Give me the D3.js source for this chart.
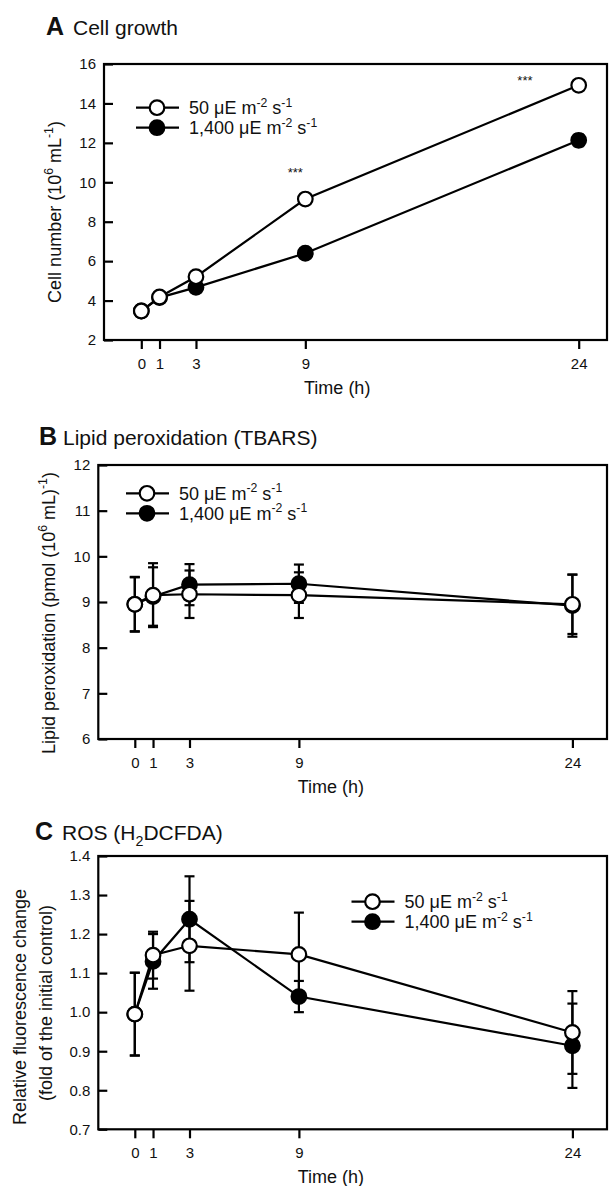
<!DOCTYPE html>
<html>
<head>
<meta charset="utf-8">
<script src="https://cdn.jsdelivr.net/npm/d3@7"></script>
<style>
  body { margin: 0; background: #fff; }
  text { font-family: "Liberation Sans", Arial, sans-serif; fill: #111; }
</style>
</head>
<body>
<script>
// sampling times (h)
var times = [0, 1, 3, 9, 24];

// A: cell number (10^6 mL^-1)
var growthLow = [3.47, 4.18, 5.21, 9.15, 14.92];
var growthLowErr = [0.05, 0.05, 0.08, 0.1, 0.12];
var growthHigh = [3.47, 4.15, 4.67, 6.40, 12.13];
var growthHighErr = [0.05, 0.05, 0.1, 0.12, 0.3];
var growthTicks = [2, 4, 6, 8, 10, 12, 14, 16];

// B: lipid peroxidation (pmol (10^6 mL)^-1)
var lipidLow = [8.95, 9.15, 9.17, 9.15, 8.95];
var lipidLowErr = [0.59, 0.70, 0.52, 0.50, 0.65];
var lipidHigh = [8.95, 9.12, 9.38, 9.40, 8.92];
var lipidHighErr = [0.60, 0.64, 0.45, 0.42, 0.68];
var lipidTicks = [6, 7, 8, 9, 10, 11, 12];

// C: relative fluorescence change
var rosLow = [0.995, 1.146, 1.17, 1.148, 0.948];
var rosLowErr = [0.106, 0.06, 0.115, 0.107, 0.106];
var rosHigh = [0.995, 1.13, 1.238, 1.04, 0.914];
var rosHighErr = [0.106, 0.07, 0.11, 0.04, 0.108];
var rosTicks = [0.7, 0.8, 0.9, 1.0, 1.1, 1.2, 1.3, 1.4];

// significance marks on panel A
var starTimes = [8.45, 21.05];
var starValues = [10.5, 15.2];

var legendLow = [{t: "50 \u03bcE m"}, {t: "-2", sup: true}, {t: " s"}, {t: "-1", sup: true}];
var legendHigh = [{t: "1,400 \u03bcE m"}, {t: "-2", sup: true}, {t: " s"}, {t: "-1", sup: true}];

var W = 609, H = 1186, boxRight = 607;

var svg = d3.select("body").append("svg")
	.attr("width", W)
	.attr("height", H);

// text with superscripts / subscripts
function richText(sel, parts, size)
{
	var shift = 0;
	parts.forEach(function(p) {
		var target = p.sup ? -0.42 * size : (p.sub ? 0.3 * size : 0);
		sel.append("tspan")
			.attr("dy", target - shift)
			.attr("font-size", (p.sup || p.sub) ? size * 0.68 : size)
			.text(p.t);
		shift = target;
	});
	return sel;
}

function toPoints(vals, errs)
{
	return times.map(function(t, i) { return {t: t, v: vals[i], e: errs[i]}; });
}

function drawPanel(cfg)
{
	var x = d3.scaleLinear().domain([0, 24]).range([cfg.x0, cfg.x24]);
	var y = d3.scaleLinear().domain(cfg.yDomain).range([cfg.bottom, cfg.top]);
	var g = svg.append("g");

	// title
	g.append("text")
		.attr("x", cfg.title.x).attr("y", cfg.title.y)
		.attr("font-size", 25).attr("font-weight", "bold")
		.text(cfg.title.letter);
	richText(g.append("text").attr("x", cfg.title.tx).attr("y", cfg.title.y), cfg.title.parts, 21);

	// frame
	g.append("rect")
		.attr("x", cfg.left).attr("y", cfg.top)
		.attr("width", boxRight - cfg.left).attr("height", cfg.bottom - cfg.top)
		.attr("fill", "none").attr("stroke", "#000").attr("stroke-width", 2.2);

	// y axis (ticks point inward)
	g.append("g")
		.attr("transform", "translate(" + cfg.left + ",0)")
		.call(d3.axisLeft(y).tickValues(cfg.ticks).tickSize(-9).tickPadding(8).tickFormat(cfg.fmt))
		.call(function(a) {
			a.select(".domain").remove();
			a.selectAll("line").attr("stroke", "#000").attr("stroke-width", 2.2);
			a.selectAll("text").attr("font-size", 15).attr("font-family", null).attr("fill", "#111");
		});

	// x axis
	g.append("g")
		.attr("transform", "translate(0," + cfg.bottom + ")")
		.call(d3.axisBottom(x).tickValues(times).tickSize(9).tickPadding(9))
		.call(function(a) {
			a.select(".domain").remove();
			a.selectAll("line").attr("stroke", "#000").attr("stroke-width", 2.2);
			a.selectAll("text").attr("font-size", 15).attr("font-family", null).attr("fill", "#111");
		});

	g.append("text")
		.attr("x", x(10.75)).attr("y", cfg.bottom + 54)
		.attr("text-anchor", "middle").attr("font-size", 18)
		.text("Time (h)");

	// y labels
	cfg.ylabels.forEach(function(l) {
		richText(g.append("text")
			.attr("text-anchor", "middle")
			.attr("transform", "translate(" + (l.x + 6) + "," + l.y + ") rotate(-90)"), l.parts, 18);
	});

	var line = d3.line().x(function(d) { return x(d.t); }).y(function(d) { return y(d.v); });
	var series = [
		{pts: toPoints(cfg.high, cfg.highErr), fill: "#000"},
		{pts: toPoints(cfg.low, cfg.lowErr), fill: "#fff"}
	];

	series.forEach(function(s) {
		g.append("path").datum(s.pts)
			.attr("d", line).attr("fill", "none")
			.attr("stroke", "#000").attr("stroke-width", 2.2);
	});

	series.forEach(function(s) {
		var eb = g.append("g").selectAll("g").data(s.pts).enter().append("g");
		eb.append("line")
			.attr("x1", function(d) { return x(d.t); }).attr("x2", function(d) { return x(d.t); })
			.attr("y1", function(d) { return y(d.v - d.e); }).attr("y2", function(d) { return y(d.v + d.e); });
		eb.append("line")
			.attr("x1", function(d) { return x(d.t) - 5; }).attr("x2", function(d) { return x(d.t) + 5; })
			.attr("y1", function(d) { return y(d.v + d.e); }).attr("y2", function(d) { return y(d.v + d.e); });
		eb.append("line")
			.attr("x1", function(d) { return x(d.t) - 5; }).attr("x2", function(d) { return x(d.t) + 5; })
			.attr("y1", function(d) { return y(d.v - d.e); }).attr("y2", function(d) { return y(d.v - d.e); });
		eb.selectAll("line").attr("stroke", "#000").attr("stroke-width", 2.2);
	});

	series.forEach(function(s) {
		g.append("g").selectAll("circle").data(s.pts).enter().append("circle")
			.attr("cx", function(d) { return x(d.t); })
			.attr("cy", function(d) { return y(d.v); })
			.attr("r", 7.3)
			.attr("fill", s.fill).attr("stroke", "#000").attr("stroke-width", 2.2);
	});

	// significance stars
	if (cfg.stars) {
		g.selectAll(".star").data(cfg.stars).enter().append("text")
			.attr("x", function(d) { return x(d.t); })
			.attr("y", function(d) { return y(d.v) + 5; })
			.attr("text-anchor", "middle").attr("font-size", 13)
			.text("***");
	}

	// legend
	var lg = [{parts: legendLow, fill: "#fff"}, {parts: legendHigh, fill: "#000"}];
	lg.forEach(function(l, i) {
		var ly = cfg.legend.y + i * 20;
		g.append("line")
			.attr("x1", cfg.legend.x).attr("x2", cfg.legend.x + 43)
			.attr("y1", ly).attr("y2", ly)
			.attr("stroke", "#000").attr("stroke-width", 2.2);
		g.append("circle")
			.attr("cx", cfg.legend.x + 21).attr("cy", ly).attr("r", 7.3)
			.attr("fill", l.fill).attr("stroke", "#000").attr("stroke-width", 2.2);
		richText(g.append("text").attr("x", cfg.legend.x + 53).attr("y", ly + 6.5), l.parts, 18);
	});
}

drawPanel({
	title: {letter: "A", x: 46, tx: 73, y: 35, parts: [{t: "Cell growth"}]},
	top: 64, bottom: 340, left: 104, x0: 141.3, x24: 578.7,
	yDomain: [2, 16], ticks: growthTicks, fmt: d3.format("d"),
	low: growthLow, lowErr: growthLowErr, high: growthHigh, highErr: growthHighErr,
	ylabels: [{x: 55, y: 212, parts: [{t: "Cell number (10"}, {t: "6", sup: true}, {t: " mL"}, {t: "-1", sup: true}, {t: ")"}]}],
	legend: {x: 136, y: 107.7},
	stars: starTimes.map(function(t, i) { return {t: t, v: starValues[i]}; })
});

drawPanel({
	title: {letter: "B", x: 39, tx: 63, y: 445, parts: [{t: "Lipid peroxidation (TBARS)"}]},
	top: 465, bottom: 739, left: 98.3, x0: 134.8, x24: 572.4,
	yDomain: [6, 12], ticks: lipidTicks, fmt: d3.format("d"),
	low: lipidLow, lowErr: lipidLowErr, high: lipidHigh, highErr: lipidHighErr,
	ylabels: [{x: 49, y: 613, parts: [{t: "Lipid peroxidation (pmol (10"}, {t: "6", sup: true}, {t: " mL)"}, {t: "-1", sup: true}, {t: ")"}]}],
	legend: {x: 126, y: 493.3}
});

drawPanel({
	title: {letter: "C", x: 35, tx: 62, y: 840, parts: [{t: "ROS (H"}, {t: "2", sub: true}, {t: "DCFDA)"}]},
	top: 856, bottom: 1129.3, left: 98.3, x0: 134.8, x24: 572.4,
	yDomain: [0.7, 1.4], ticks: rosTicks, fmt: d3.format(".1f"),
	low: rosLow, lowErr: rosLowErr, high: rosHigh, highErr: rosHighErr,
	ylabels: [
		{x: 19.5, y: 1007, parts: [{t: "Relative fluorescence change"}]},
		{x: 45.5, y: 1003, parts: [{t: "(fold of the initial control)"}]}
	],
	legend: {x: 351.5, y: 901.7}
});
</script>
</body>
</html>
